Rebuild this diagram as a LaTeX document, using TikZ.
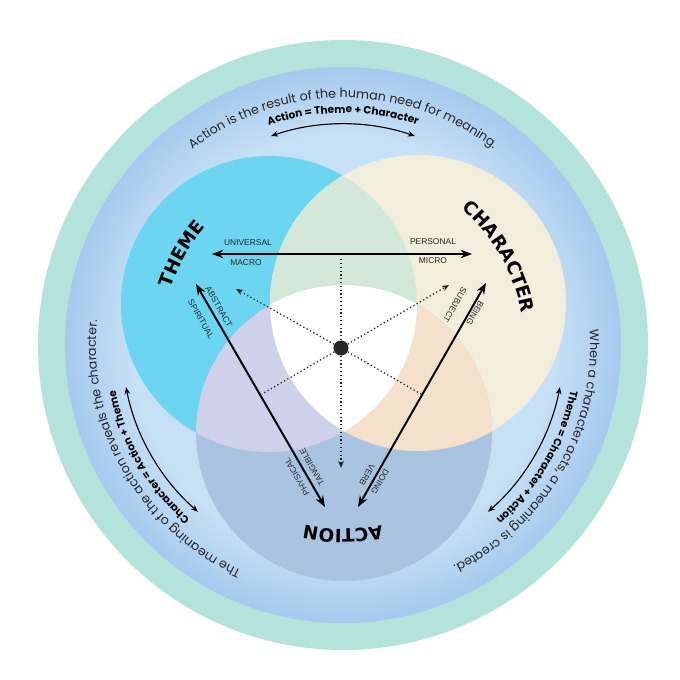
\documentclass[tikz,border=0pt]{standalone}
\usepackage{fontspec}
\setmainfont{Poppins}
\newfontfamily\headfont{DejaVu Sans}
\newfontfamily\tagfont{Liberation Sans}
\usetikzlibrary{arrows.meta,decorations.text}

\definecolor{rimteal}{HTML}{B4E3DB}
\definecolor{ringedge}{HTML}{A5CAEE}
\definecolor{ringin}{HTML}{C6E0F5}
\definecolor{themecol}{HTML}{6CD5F0}
\definecolor{charcol}{HTML}{F1EEDC}
\definecolor{actcol}{HTML}{A9C4E1}
\definecolor{tcmix}{HTML}{D4E8D9}
\definecolor{tamix}{HTML}{CDD1EA}
\definecolor{camix}{HTML}{F5E0CB}
\definecolor{inkgray}{HTML}{262626}

% the rim of the shaded circle sits at 25bp
\pgfdeclareradialshading{ringshade}{\pgfpoint{0bp}{0bp}}{color(0bp)=(ringin); color(19bp)=(ringin); color(25bp)=(ringedge); color(50bp)=(ringedge)}

\begin{document}
\begin{tikzpicture}
  [x=0.025cm,y=0.025cm,
   sentence/.style={decorate,decoration={text along path,text align=center,
     text color=inkgray,text={|\fontsize{9}{11}\selectfont|#1}}},
   formula/.style={decorate,decoration={text along path,text align=center,
     text color=black,text={|\fontsize{7.5}{9}\selectfont\bfseries|#1}}},
   headline/.style={decorate,decoration={text along path,text align=center,
     text color=black,text={|\headfont\bfseries\fontsize{13}{15}\selectfont|#1}}},
   tag/.style={font=\tagfont\fontsize{6}{7}\selectfont,text=inkgray,inner sep=1pt},
   mainarrow/.style={<->,>={Stealth[length=8pt,width=6pt]},line width=1.4pt},
   arcarrow/.style={<->,>={Stealth[length=5pt,width=4pt]},line width=0.8pt},
   dotline/.style={inkgray,line width=0.9pt,dash pattern=on 0.9pt off 1.8pt},
   dotarrow/.style={dotline,->,>={Stealth[length=5pt,width=4pt]}}]

  \useasboundingbox (-343,-335) rectangle (337,345);

  % outer rings
  \path[fill=rimteal] (0,0) circle (305);
  \path[shading=ringshade] (0,0) circle (278);

  % the three circles
  \coordinate (thm) at (-74,41);
  \coordinate (chr) at (75,42);
  \coordinate (act) at (1,-88);
  \fill[themecol] (thm) circle (148);
  \fill[charcol] (chr) circle (148);
  \fill[actcol] (act) circle (148);
  \begin{scope}
    \clip (thm) circle (148);
    \fill[tcmix] (chr) circle (148);
    \fill[tamix] (act) circle (148);
  \end{scope}
  \begin{scope}
    \clip (chr) circle (148);
    \fill[camix] (act) circle (148);
    \clip (thm) circle (148);
    \fill[white] (act) circle (148);
  \end{scope}

  % circle names
  \path[headline={THEME}] (0,-2) ++(210:182) arc[start angle=210,end angle=90,radius=182];
  \path[headline={CHARACTER}] (0,-2) ++(90:182) arc[start angle=90,end angle=-30,radius=182];
  \path[headline={ACTION}] (0,-2) ++(330:182) arc[start angle=330,end angle=210,radius=182];

  % outer sentences
  \path[sentence={Action is the result of the human need for meaning.}]
    (150:247) arc[start angle=150,end angle=30,radius=247];
  \path[sentence={The meaning of the action reveals the character.}]
    (270:247) arc[start angle=270,end angle=150,radius=247];
  \path[sentence={When a character acts, a meaning is created.}]
    (30:247) arc[start angle=30,end angle=-90,radius=247];

  \path[formula={Action = Theme + Character}]
    (150:232) arc[start angle=150,end angle=30,radius=232];
  \path[formula={Character = Action + Theme}]
    (270:232) arc[start angle=270,end angle=150,radius=232];
  \path[formula={Theme = Character + Action}]
    (30:232) arc[start angle=30,end angle=-90,radius=232];

  \coordinate (topL) at (109:221);
  \coordinate (leftL) at (229:221);
  \coordinate (rightL) at (349:221);
  \draw[arcarrow] (topL) arc[start angle=109,end angle=71,radius=221];
  \draw[arcarrow] (leftL) arc[start angle=229,end angle=191,radius=221];
  \draw[arcarrow] (rightL) arc[start angle=349,end angle=311,radius=221];

  % dotted spokes
  \node[circle,fill=inkgray,inner sep=0pt,minimum size=0.375cm] (hub) at (-2,-3) {};
  \coordinate (spokeN) at (-2,88);
  \coordinate (spokeS) at (-2,-123);
  \coordinate (spokeNW) at (-107,56);
  \coordinate (spokeSE) at (78,-49);
  \coordinate (spokeNE) at (106,60);
  \coordinate (spokeSW) at (-81,-49);
  \draw[dotline] (hub) -- (spokeN);
  \draw[dotline] (hub) -- (spokeSE);
  \draw[dotline] (hub) -- (spokeSW);
  \draw[dotarrow] (hub) -- (spokeS);
  \draw[dotarrow] (hub) -- (spokeNW);
  \draw[dotarrow] (hub) -- (spokeNE);

  % main arrows
  \coordinate (macroEnd) at (-131,91);
  \coordinate (microEnd) at (129,91);
  \coordinate (abstractEnd) at (-147,61);
  \coordinate (physicalEnd) at (-18,-162);
  \coordinate (subjectEnd) at (143,62);
  \coordinate (verbEnd) at (15,-162);
  \draw[mainarrow] (macroEnd) -- (microEnd);
  \draw[mainarrow] (abstractEnd) -- (physicalEnd);
  \draw[mainarrow] (subjectEnd) -- (verbEnd);

  % arrow labels
  \node[tag] (universal) at (-95,102) {UNIVERSAL};
  \node[tag] (macro) at (-97,82) {MACRO};
  \node[tag] (personal) at (90,103) {PERSONAL};
  \node[tag] (micro) at (90,84) {MICRO};
  \node[tag,rotate=-60] (abstract) at (-124,38) {ABSTRACT};
  \node[tag,rotate=-60] (spiritual) at (-142,26) {SPIRITUAL};
  \node[tag,rotate=240] (subject) at (112,40) {SUBJECT};
  \node[tag,rotate=240] (being) at (132,32) {BEING};
  \node[tag,rotate=120] (tangible) at (-31,-122) {TANGIBLE};
  \node[tag,rotate=120] (physical) at (-46,-132) {PHYSICAL};
  \node[tag,rotate=240] (verb) at (24,-130) {VERB};
  \node[tag,rotate=240] (doing) at (37,-137) {DOING};

\end{tikzpicture}
\end{document}
